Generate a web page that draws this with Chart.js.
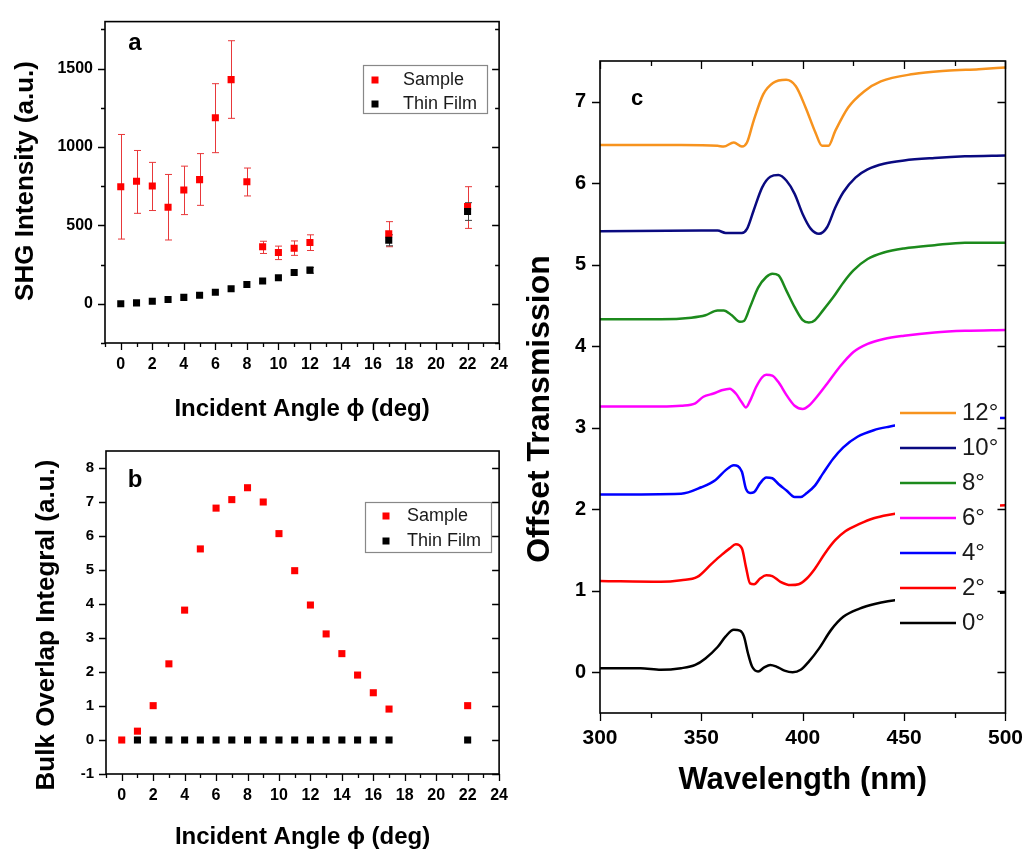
<!DOCTYPE html>
<html>
<head>
<meta charset="utf-8">
<script src="https://cdn.jsdelivr.net/npm/chart.js@4.4.1/dist/chart.umd.min.js"></script>
<style>
    body { margin: 0; background: #fff; }
    #wrap { position: relative; width: 1036px; height: 854px; overflow: hidden; }
    #wrap canvas { position: absolute; }
</style>
</head>
<body>
<div id="wrap">
    <canvas id="chartA" width="520" height="430" style="left:0;top:0"></canvas>
    <canvas id="chartB" width="520" height="424" style="left:0;top:430px"></canvas>
    <canvas id="chartC" width="516" height="854" style="left:520px;top:0"></canvas>
</div>
<script>
"use strict";

// panel a: SHG intensity vs incident angle
var angleA = [0, 1, 2, 3, 4, 5, 6, 7, 8, 9, 10, 11, 12, 17, 22];
var sampleSHG = [747, 782, 751, 616, 726, 792, 1187, 1430, 778, 364, 327, 354, 391, 446, 620];
var sampleLow = [413, 577, 595, 407, 569, 628, 964, 1183, 688, 321, 282, 309, 340, 364, 481];
var sampleHigh = [1080, 978, 902, 825, 878, 958, 1404, 1678, 866, 399, 368, 401, 440, 524, 747];
var filmSHG = [0, 6, 16, 27, 41, 55, 74, 96, 123, 145, 166, 200, 215, 405, 589];
var filmLow = [null, null, null, null, null, null, null, null, null, null, null, null, 195, 370, 532];
var filmHigh = [null, null, null, null, null, null, null, null, null, null, null, null, 232, 440, 645];

// panel b: bulk overlap integral
var angleB = [0, 1, 2, 3, 4, 5, 6, 7, 8, 9, 10, 11, 12, 13, 14, 15, 16, 17, 22];
var sampleOverlap = [0, 0.26, 1.01, 2.24, 3.82, 5.62, 6.82, 7.07, 7.42, 7.0, 6.07, 4.98, 3.97, 3.12, 2.54, 1.91, 1.39, 0.91, 1.01];
var filmAngleB = [1, 2, 3, 4, 5, 6, 7, 8, 9, 10, 11, 12, 13, 14, 15, 16, 17, 22];
var filmOverlap = [0, 0, 0, 0, 0, 0, 0, 0, 0, 0, 0, 0, 0, 0, 0, 0, 0, 0];

// panel c: offset transmission spectra
var angleLabels = ["12°", "10°", "8°", "6°", "4°", "2°", "0°"];
var angleColors = ["#f7931e", "#0a0a80", "#1c8a1c", "#ff00ff", "#0000ff", "#ff0000", "#000000"];
var wl12 = [300, 320, 340, 358, 361, 366, 370, 372.5, 375.7, 380.5, 385.3, 391.8, 396.6, 401.4, 406.3, 409.5, 412.7, 416, 422.4, 430.4, 438.5, 454.6, 470.7, 486.8, 500];
var tr12 = [6.47, 6.47, 6.47, 6.46, 6.45, 6.50, 6.45, 6.50, 6.76, 7.09, 7.23, 7.27, 7.19, 6.93, 6.62, 6.46, 6.46, 6.64, 6.93, 7.13, 7.25, 7.34, 7.38, 7.40, 7.42];
var wl10 = [300, 350, 358, 362, 370, 372.5, 375.7, 380, 384, 388, 392, 396, 400, 404, 408, 412, 416, 420, 426, 432, 440, 450, 465, 480, 500];
var tr10 = [5.41, 5.42, 5.42, 5.39, 5.39, 5.44, 5.66, 5.95, 6.08, 6.10, 6.03, 5.87, 5.62, 5.44, 5.38, 5.46, 5.70, 5.89, 6.07, 6.17, 6.24, 6.28, 6.31, 6.33, 6.34];
var wl8 = [300, 330, 345, 352, 358, 361, 365, 369, 371, 374, 378, 382, 385, 388, 392, 396, 400, 403, 406, 410, 415, 420, 425, 432, 440, 450, 465, 480, 500];
var tr8 = [4.33, 4.33, 4.35, 4.38, 4.44, 4.44, 4.38, 4.30, 4.31, 4.48, 4.72, 4.85, 4.89, 4.87, 4.68, 4.48, 4.32, 4.29, 4.32, 4.44, 4.60, 4.78, 4.93, 5.07, 5.15, 5.20, 5.24, 5.27, 5.27];
var wl6 = [300, 330, 340, 347, 351, 356, 360, 364, 367, 370, 372, 374, 377, 380, 382, 385, 388, 392, 396, 400, 403, 407, 412, 418, 425, 432, 440, 450, 465, 480, 500];
var tr6 = [3.26, 3.26, 3.27, 3.30, 3.38, 3.42, 3.46, 3.48, 3.42, 3.31, 3.25, 3.33, 3.50, 3.62, 3.65, 3.64, 3.56, 3.40, 3.27, 3.23, 3.27, 3.38, 3.54, 3.74, 3.93, 4.03, 4.09, 4.13, 4.17, 4.19, 4.20];
var wl4 = [300, 340, 350, 357, 362, 366, 368, 370, 372, 374, 376, 379, 382, 385, 388, 392, 396, 399, 402, 406, 410, 415, 420, 427, 435, 442, 455, 470, 490, 500];
var tr4 = [2.18, 2.19, 2.27, 2.36, 2.48, 2.54, 2.53, 2.46, 2.25, 2.20, 2.21, 2.32, 2.39, 2.38, 2.31, 2.23, 2.15, 2.15, 2.20, 2.29, 2.44, 2.62, 2.76, 2.89, 2.97, 3.01, 3.06, 3.10, 3.12, 3.12];
var wl2 = [300, 330, 340, 348, 355, 360, 364, 367, 370, 372, 374, 376, 379, 382, 385, 389, 394, 398, 402, 406, 411, 416, 421, 428, 435, 442, 460, 480, 500];
var tr2 = [1.12, 1.11, 1.13, 1.17, 1.33, 1.44, 1.52, 1.57, 1.52, 1.29, 1.09, 1.08, 1.15, 1.19, 1.18, 1.11, 1.07, 1.08, 1.15, 1.27, 1.46, 1.62, 1.73, 1.82, 1.89, 1.93, 1.99, 2.03, 2.05];
var wl0 = [300, 320, 330, 340, 347, 352, 358, 362, 366, 369, 371, 373, 375, 378, 381, 384, 387, 391, 395, 399, 403, 408, 414, 420, 428, 436, 442, 460, 480, 500];
var tr0 = [0.05, 0.05, 0.03, 0.05, 0.09, 0.17, 0.31, 0.44, 0.52, 0.51, 0.44, 0.23, 0.07, 0.01, 0.06, 0.09, 0.07, 0.02, 0.00, 0.03, 0.13, 0.29, 0.52, 0.68, 0.78, 0.84, 0.87, 0.93, 0.96, 0.98];
var spectraX = [wl12, wl10, wl8, wl6, wl4, wl2, wl0];
var spectraY = [tr12, tr10, tr8, tr6, tr4, tr2, tr0];

// tick labels
var angleTicks = [0, 2, 4, 6, 8, 10, 12, 14, 16, 18, 20, 22, 24];
var shgTicks = [0, 500, 1000, 1500];
var overlapTicks = [-1, 0, 1, 2, 3, 4, 5, 6, 7, 8];
var wavelengthTicks = [300, 350, 400, 450, 500];
var transTicks = [0, 1, 2, 3, 4, 5, 6, 7];

var FONT = '"Liberation Sans", Arial, sans-serif';

function points(xs, ys) {
    return xs.map(function(x, i) {
        return { x: x, y: ys[i] };
    });
}

function eachStep(min, max, step, fn) {
    var start = Math.ceil(min / step - 1e-9);
    var end = Math.floor(max / step + 1e-9);
    for (var k = start; k <= end; k++) {
        fn(k * step);
    }
}

function isMult(v, step) {
    return Math.abs(v / step - Math.round(v / step)) < 1e-6;
}

function fixedTicks(values) {
    return function(scale) {
        scale.ticks = values.map(function(v) {
            return { value: v };
        });
    };
}

function plainLabel(v) {
    return String(v);
}

/*
Plugins
 */

// frame box plus major / minor tick marks (outward on left+bottom, inward on the mirror sides)
var framePlugin = {
    id: "frame",
    afterDraw: function(chart, args, o) {
        var ctx = chart.ctx;
        var a = chart.chartArea;
        var xs = chart.scales.x;
        var ys = chart.scales.y;
        ctx.save();
        ctx.strokeStyle = "#000";
        ctx.lineWidth = 1.3;
        ctx.beginPath();
        eachStep(xs.min, xs.max, o.xMinor || o.xMajor, function(v) {
            var px = Math.round(xs.getPixelForValue(v)) + 0.5;
            var len = isMult(v, o.xMajor) ? o.majorLen : o.minorLen;
            ctx.moveTo(px, a.bottom);
            ctx.lineTo(px, a.bottom + len);
            if (o.topTicks) {
                ctx.moveTo(px, a.top);
                ctx.lineTo(px, a.top + len);
            }
        });
        eachStep(ys.min, ys.max, o.yMinor || o.yMajor, function(v) {
            var py = Math.round(ys.getPixelForValue(v)) + 0.5;
            var len = isMult(v, o.yMajor) ? o.majorLen : o.minorLen;
            ctx.moveTo(a.left - len, py);
            ctx.lineTo(a.left, py);
            if (o.rightTicks) {
                ctx.moveTo(a.right - len, py);
                ctx.lineTo(a.right, py);
            }
        });
        ctx.stroke();
        ctx.lineWidth = 1.6;
        ctx.strokeRect(a.left, a.top, a.right - a.left, a.bottom - a.top);
        ctx.restore();
    }
};

var errorBarPlugin = {
    id: "errorBars",
    beforeDatasetsDraw: function(chart) {
        var ctx = chart.ctx;
        var xs = chart.scales.x;
        var ys = chart.scales.y;
        chart.data.datasets.forEach(function(ds) {
            if (!ds.errLow) {
                return;
            }
            ctx.save();
            ctx.strokeStyle = ds.errColor;
            ctx.lineWidth = 1;
            ds.data.forEach(function(p, i) {
                var lo = ds.errLow[i];
                var hi = ds.errHigh[i];
                if (lo === null || lo === undefined) {
                    return;
                }
                var px = Math.round(xs.getPixelForValue(p.x)) + 0.5;
                var y1 = ys.getPixelForValue(lo);
                var y2 = ys.getPixelForValue(hi);
                ctx.beginPath();
                ctx.moveTo(px, y1);
                ctx.lineTo(px, y2);
                ctx.moveTo(px - 3.5, y1);
                ctx.lineTo(px + 3.5, y1);
                ctx.moveTo(px - 3.5, y2);
                ctx.lineTo(px + 3.5, y2);
                ctx.stroke();
            });
            ctx.restore();
        });
    }
};

var boxLegendPlugin = {
    id: "boxLegend",
    afterDatasetsDraw: function(chart, args, o) {
        if (!o.box) {
            return;
        }
        var ctx = chart.ctx;
        var b = o.box;
        ctx.save();
        ctx.fillStyle = "#fff";
        ctx.fillRect(b.x, b.y, b.w, b.h);
        if (o.border) {
            ctx.strokeStyle = o.border;
            ctx.lineWidth = 1.2;
            ctx.strokeRect(b.x + 0.5, b.y + 0.5, b.w, b.h);
        }
        ctx.font = o.font;
        ctx.textBaseline = "middle";
        ctx.textAlign = "left";
        chart.data.datasets.forEach(function(ds, i) {
            var y = o.firstY + i * o.rowH;
            if (o.kind === "line") {
                ctx.strokeStyle = ds.borderColor;
                ctx.lineWidth = ds.borderWidth;
                ctx.beginPath();
                ctx.moveTo(o.symX, y);
                ctx.lineTo(o.symX + o.symW, y);
                ctx.stroke();
            } else {
                ctx.fillStyle = ds.backgroundColor;
                ctx.fillRect(o.symX - 3.5, y - 3.5, 7, 7);
            }
            ctx.fillStyle = "#1a1a1a";
            ctx.fillText(ds.label, o.textX, y);
        });
        ctx.restore();
    }
};

// free text: panel letters and rotated y titles
var textPlugin = {
    id: "texts",
    afterDraw: function(chart, args, o) {
        var ctx = chart.ctx;
        (o.items || []).forEach(function(t) {
            ctx.save();
            ctx.translate(t.x, t.y);
            if (t.rotate) {
                ctx.rotate(t.rotate);
            }
            ctx.font = t.font;
            ctx.fillStyle = "#000";
            ctx.textAlign = "center";
            ctx.textBaseline = "middle";
            ctx.fillText(t.text, 0, 0);
            ctx.restore();
        });
    }
};

Chart.register(framePlugin, errorBarPlugin, boxLegendPlugin, textPlugin);

function tickFont(size) {
    return { family: FONT, size: size, weight: "bold" };
}

function angleScales(xHeight, yWidth, yMin, yMax, yTicks, yFont, titlePad) {
    return {
        x: {
            type: "linear",
            min: -1,
            max: 24,
            afterFit: function(s) {
                s.height = xHeight;
            },
            afterBuildTicks: fixedTicks(angleTicks),
            grid: { display: false, drawTicks: false },
            border: { display: false },
            ticks: { padding: 12, color: "#000", font: tickFont(16), callback: plainLabel },
            title: {
                display: true,
                text: "Incident Angle \u03d5 (deg)",
                color: "#000",
                font: { family: FONT, size: 24, weight: "bold" },
                padding: { top: 0, bottom: titlePad }
            }
        },
        y: {
            type: "linear",
            min: yMin,
            max: yMax,
            afterFit: function(s) {
                s.width = yWidth;
            },
            afterBuildTicks: fixedTicks(yTicks),
            grid: { display: false, drawTicks: false },
            border: { display: false },
            ticks: { padding: 12, color: "#000", font: tickFont(yFont), callback: plainLabel }
        }
    };
}

function _drawPanelA() {
    new Chart(document.getElementById("chartA"), {
        type: "scatter",
        data: {
            datasets: [
                {
                    label: "Sample",
                    data: points(angleA, sampleSHG),
                    backgroundColor: "#ff0000",
                    borderWidth: 0,
                    pointStyle: "rect",
                    pointRadius: 5,
                    errLow: sampleLow,
                    errHigh: sampleHigh,
                    errColor: "#e8383a",
                    order: 2
                },
                {
                    label: "Thin Film",
                    data: points(angleA, filmSHG),
                    backgroundColor: "#000000",
                    borderWidth: 0,
                    pointStyle: "rect",
                    pointRadius: 5,
                    errLow: filmLow,
                    errHigh: filmHigh,
                    errColor: "#444",
                    order: 1
                }
            ]
        },
        options: {
            responsive: false,
            animation: false,
            events: [],
            layout: { padding: { top: 9, right: 18, left: 0, bottom: 0 } },
            scales: angleScales(87, 105, -250, 1800, shgTicks, 16, 6),
            plugins: {
                legend: { display: false },
                tooltip: { enabled: false },
                frame: { xMajor: 2, xMinor: 1, yMajor: 500, yMinor: 250, majorLen: 7, minorLen: 4, rightTicks: true },
                boxLegend: {
                    box: { x: 363, y: 65, w: 124, h: 48 },
                    border: "#888",
                    font: "18px " + FONT,
                    symX: 375, textX: 403, firstY: 80, rowH: 24
                },
                texts: {
                    items: [
                        { text: "a", x: 135, y: 43, font: "bold 24px " + FONT },
                        { text: "SHG Intensity (a.u.)", x: 26, y: 181, rotate: -Math.PI / 2, font: "bold 26px " + FONT }
                    ]
                }
            }
        }
    });
}

function _drawPanelB() {
    new Chart(document.getElementById("chartB"), {
        type: "scatter",
        data: {
            datasets: [
                {
                    label: "Sample",
                    data: points(angleB, sampleOverlap),
                    backgroundColor: "#ff0000",
                    borderWidth: 0,
                    pointStyle: "rect",
                    pointRadius: 5,
                    order: 2
                },
                {
                    label: "Thin Film",
                    data: points(filmAngleB, filmOverlap),
                    backgroundColor: "#000000",
                    borderWidth: 0,
                    pointStyle: "rect",
                    pointRadius: 5,
                    order: 1
                }
            ]
        },
        options: {
            responsive: false,
            animation: false,
            events: [],
            layout: { padding: { top: 10, right: 17, left: 0, bottom: 0 } },
            scales: angleScales(80, 106, -1, 8.5, overlapTicks, 15, 2),
            plugins: {
                legend: { display: false },
                tooltip: { enabled: false },
                frame: { xMajor: 2, xMinor: 1, yMajor: 1, majorLen: 7, minorLen: 4, rightTicks: true },
                boxLegend: {
                    box: { x: 365, y: 72, w: 126, h: 50 },
                    border: "#888",
                    font: "18px " + FONT,
                    symX: 386, textX: 407, firstY: 86, rowH: 25
                },
                texts: {
                    items: [
                        { text: "b", x: 135, y: 50, font: "bold 24px " + FONT },
                        { text: "Bulk Overlap Integral (a.u.)", x: 47, y: 195, rotate: -Math.PI / 2, font: "bold 26px " + FONT }
                    ]
                }
            }
        }
    });
}

function _drawPanelC() {
    var datasets = angleLabels.map(function(label, i) {
        return {
            label: label,
            data: points(spectraX[i], spectraY[i]),
            borderColor: angleColors[i],
            backgroundColor: angleColors[i],
            borderWidth: 2.5,
            pointRadius: 0,
            fill: false,
            cubicInterpolationMode: "monotone"
        };
    });
    new Chart(document.getElementById("chartC"), {
        type: "line",
        data: { datasets: datasets },
        options: {
            responsive: false,
            animation: false,
            events: [],
            layout: { padding: { top: 61, right: 22, left: 0, bottom: 0 } },
            scales: {
                x: {
                    type: "linear",
                    min: 300,
                    max: 500,
                    afterFit: function(s) {
                        s.height = 141;
                    },
                    afterBuildTicks: fixedTicks(wavelengthTicks),
                    grid: { display: false, drawTicks: false },
                    border: { display: false },
                    ticks: { padding: 13, color: "#000", font: tickFont(21), callback: plainLabel },
                    title: {
                        display: true,
                        text: "Wavelength (nm)",
                        color: "#000",
                        font: { family: FONT, size: 31, weight: "bold" },
                        padding: { top: 0, bottom: 55 }
                    }
                },
                y: {
                    type: "linear",
                    min: -0.5,
                    max: 7.5,
                    afterFit: function(s) {
                        s.width = 80;
                    },
                    afterBuildTicks: fixedTicks(transTicks),
                    grid: { display: false, drawTicks: false },
                    border: { display: false },
                    ticks: { padding: 14, color: "#000", font: tickFont(20), callback: plainLabel }
                }
            },
            plugins: {
                legend: { display: false },
                tooltip: { enabled: false },
                frame: { xMajor: 50, xMinor: 25, yMajor: 1, majorLen: 8, minorLen: 5, rightTicks: true, topTicks: true },
                boxLegend: {
                    kind: "line",
                    box: { x: 375, y: 398, w: 105, h: 242 },
                    font: "24px " + FONT,
                    symX: 380, symW: 56, textX: 442, firstY: 413, rowH: 35
                },
                texts: {
                    items: [
                        { text: "c", x: 117, y: 99, font: "bold 22px " + FONT },
                        { text: "Offset Transmission", x: 20, y: 409, rotate: -Math.PI / 2, font: "bold 32px " + FONT }
                    ]
                }
            }
        }
    });
}

_drawPanelA();
_drawPanelB();
_drawPanelC();
</script>
</body>
</html>
